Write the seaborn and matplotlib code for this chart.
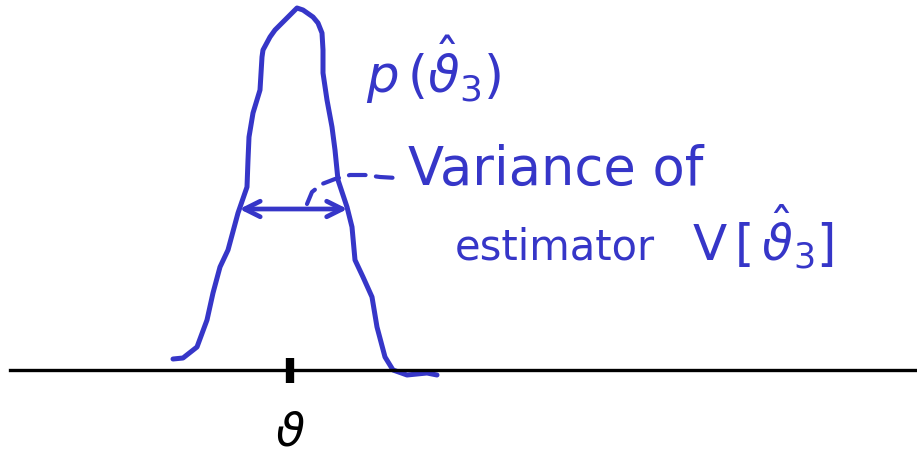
import numpy as np
import pandas as pd
import matplotlib
matplotlib.use("Agg")
import matplotlib.pyplot as plt
import seaborn as sns

# Sampling distribution of the estimator, traced as (x, y) in canvas units (y grows downward)
curve_x = [173, 183, 197, 207, 213, 220, 228, 238, 247, 248, 249, 253, 260, 262, 263, 270,
           275, 283, 292, 297, 303, 313, 318, 322, 323, 323, 327, 332, 335, 338, 347, 352,
           355, 363, 372, 377, 385, 393, 407, 427, 437]
curve_y = [359, 358, 347, 320, 293, 267, 250, 213, 187, 160, 137, 113, 90, 57, 50, 37,
           30, 22, 13, 8, 10, 17, 23, 33, 50, 73, 100, 127, 150, 180, 207, 227,
           260, 277, 297, 327, 357, 370, 375, 373, 375]

# Dashed leader from the width arrow to the annotation
leader_x = [307, 312, 322, 335, 350, 365, 380, 397]
leader_y = [204, 192, 184, 179, 175, 175, 177, 178]

axis_level = 370          # baseline of the parameter axis
true_value = 290          # position of the true parameter
spread_level = 209        # height at which the spread is marked

BLUE = "#3636c8"

sns.set_theme(style="white")
plt.rcParams["font.family"] = ["DejaVu Sans"]
plt.rcParams["mathtext.fontset"] = "dejavusans"

fig = plt.figure(figsize=(9.17, 4.55), dpi=100)
ax = fig.add_axes([0, 0, 1, 1])

curve = pd.DataFrame({"x": curve_x, "y": curve_y})
sns.lineplot(data=curve, x="x", y="y", sort=False, estimator=None, color=BLUE,
             lw=3.6, ax=ax, solid_capstyle="round", solid_joinstyle="round")

leader = pd.DataFrame({"x": leader_x, "y": leader_y})
sns.lineplot(data=leader, x="x", y="y", sort=False, estimator=None, color=BLUE,
             lw=3.0, ax=ax, linestyle=(0, (4, 2.5)), dash_capstyle="round")

ax.set_xlim(0, 917)
ax.set_ylim(455, 0)

# Parameter axis drawn as the bottom spine, with one tick at the true value
for side in ("top", "left", "right"):
    ax.spines[side].set_visible(False)
ax.spines["bottom"].set_position(("data", axis_level))
ax.spines["bottom"].set_bounds(10, 917)
ax.spines["bottom"].set_linewidth(2.4)
ax.spines["bottom"].set_color("black")
ax.set_xticks([true_value])
ax.set_xticklabels([r"$\vartheta$"], fontsize=34)
ax.tick_params(axis="x", direction="inout", length=18, width=6, color="black",
               pad=20, labelcolor="black", bottom=True)
ax.set_yticks([])
ax.set_xlabel("")
ax.set_ylabel("")

# Width of the peak: crossings of the spread level on each flank
peak = int(np.argmin(curve_y))
left_x = np.interp(spread_level, curve_y[:peak + 1][::-1], curve_x[:peak + 1][::-1])
right_x = np.interp(spread_level, curve_y[peak:], curve_x[peak:])
ax.annotate("", xy=(left_x, spread_level), xytext=(right_x, spread_level),
            arrowprops=dict(arrowstyle="<->", lw=3.4, color=BLUE, mutation_scale=28,
                            shrinkA=0, shrinkB=0))

ax.text(366, 70, r"$p\,(\hat{\vartheta}_3)$", color=BLUE, fontsize=37,
        ha="left", va="center")
ax.text(408, 170, "Variance of", color=BLUE, fontsize=38, ha="left", va="center")
ax.text(455, 247, "estimator", color=BLUE, fontsize=30, ha="left", va="center")
ax.text(692, 237, r"$\mathrm{V}\,[\,\hat{\vartheta}_3]$", color=BLUE, fontsize=36,
        ha="left", va="center")

fig.savefig("out.png", dpi=100, facecolor="white")
